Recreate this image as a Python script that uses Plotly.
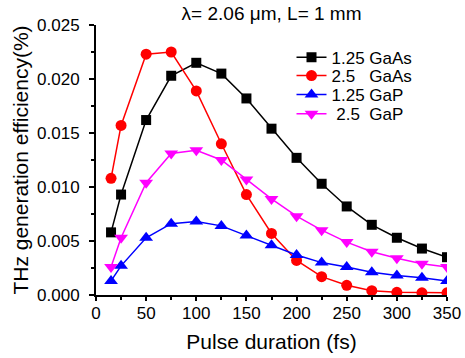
import plotly.graph_objects as go

pulse_fs = [15, 25, 50, 75, 100, 125, 150, 175, 200, 225, 250, 275, 300, 325, 350]
gaas_125 = [0.0058, 0.0093, 0.0162, 0.0203, 0.0215, 0.0205, 0.0182, 0.0154, 0.0127, 0.0103, 0.0082, 0.0065, 0.0053, 0.0043, 0.0035]
gaas_25 = [0.0108, 0.0157, 0.0223, 0.0225, 0.0189, 0.0140, 0.0093, 0.0057, 0.0032, 0.0017, 0.0009, 0.0004, 0.00025, 0.0002, 0.0002]
gap_125 = [0.0013, 0.0027, 0.0053, 0.0066, 0.0068, 0.0064, 0.0055, 0.0046, 0.0037, 0.0030, 0.0026, 0.0021, 0.0018, 0.0016, 0.0013]
gap_25 = [0.0026, 0.0053, 0.0104, 0.0131, 0.0134, 0.0125, 0.0107, 0.0089, 0.0073, 0.0060, 0.0049, 0.0040, 0.0034, 0.0029, 0.0026]

series_names = ["1.25 GaAs", "2.5   GaAs", "1.25 GaP", " 2.5  GaP"]
series_vals = [gaas_125, gaas_25, gap_125, gap_25]
colors = ["#000000", "#FF0000", "#0000FF", "#FF00FF"]
symbols = ["square", "circle", "triangle-up", "triangle-down"]
sizes = [10, 11, 12, 12]
legend_ids = ["legend", "legend2", "legend3", "legend4"]
legend_rows_y = [0.879, 0.811, 0.741, 0.670]

FONT = "Liberation Sans, Arial, sans-serif"

fig = go.Figure()
for name, vals, c, s, sz, lg in zip(series_names, series_vals, colors, symbols, sizes, legend_ids):
    fig.add_trace(go.Scatter(
        x=pulse_fs, y=vals, name=name, mode="lines+markers",
        line=dict(color=c, width=1.5),
        marker=dict(symbol=s, size=sz, color=c),
        legend=lg,
    ))

axis_common = dict(
    showline=True, linecolor="black", linewidth=2,
    showgrid=False, zeroline=False, automargin=False,
    tickfont=dict(family=FONT, size=17, color="black"),
)

legend_layouts = {}
for lg, ly in zip(legend_ids, legend_rows_y):
    legend_layouts[lg] = dict(x=0.557, xanchor="left", y=ly, yanchor="middle",
                              bgcolor="rgba(0,0,0,0)", borderwidth=0,
                              font=dict(family=FONT, size=17, color="black"),
                              itemwidth=30)

fig.update_layout(
    width=465, height=358,
    margin=dict(l=96, r=18, t=25, b=63),
    paper_bgcolor="white", plot_bgcolor="white",
    title=dict(text="λ= 2.06 μm, L= 1 mm", x=0.584, xanchor="center",
               y=0.964, yanchor="middle",
               font=dict(family=FONT, size=19, color="black")),
    xaxis=dict(range=[0, 350], dtick=50, tick0=0, ticks="outside", ticklen=4,
               tickwidth=1.5, tickcolor="black", ticklabelstandoff=-2,
               minor=dict(dtick=25, ticks="outside", ticklen=3, tickcolor="black", tickwidth=1.5),
               title=dict(text="Pulse duration (fs)", font=dict(family=FONT, size=21, color="black"), standoff=12),
               **axis_common),
    yaxis=dict(range=[0, 0.025], dtick=0.005, tick0=0, tickformat=".3f", ticks="outside", ticklen=5,
               tickwidth=1.5, tickcolor="black", ticklabelstandoff=6,
               minor=dict(dtick=0.0025, ticks="outside", ticklen=3, tickcolor="black", tickwidth=1.5),
               title=dict(text="THz generation efficiency(%)", font=dict(family=FONT, size=21, color="black"), standoff=3),
               **axis_common),
    xaxis2=dict(range=[0, 350], dtick=50, overlaying="x", side="top", anchor="y",
                ticks="inside", ticklen=5, tickwidth=1.5, tickcolor="black",
                minor=dict(dtick=25, ticks="inside", ticklen=3, tickcolor="black", tickwidth=1.5),
                showticklabels=False, showline=True, linecolor="black", linewidth=2,
                showgrid=False, zeroline=False, automargin=False),
    yaxis2=dict(range=[0, 0.025], dtick=0.005, overlaying="y", side="right", anchor="x",
                ticks="inside", ticklen=5, tickwidth=1.5, tickcolor="black",
                minor=dict(dtick=0.0025, ticks="inside", ticklen=3, tickcolor="black", tickwidth=1.5),
                showticklabels=False, showline=True, linecolor="black", linewidth=2,
                showgrid=False, zeroline=False, automargin=False),
    showlegend=True,
    **legend_layouts,
)

fig.write_html("out.html", config={"displayModeBar": False},
               post_script="document.body.style.margin='0';")
